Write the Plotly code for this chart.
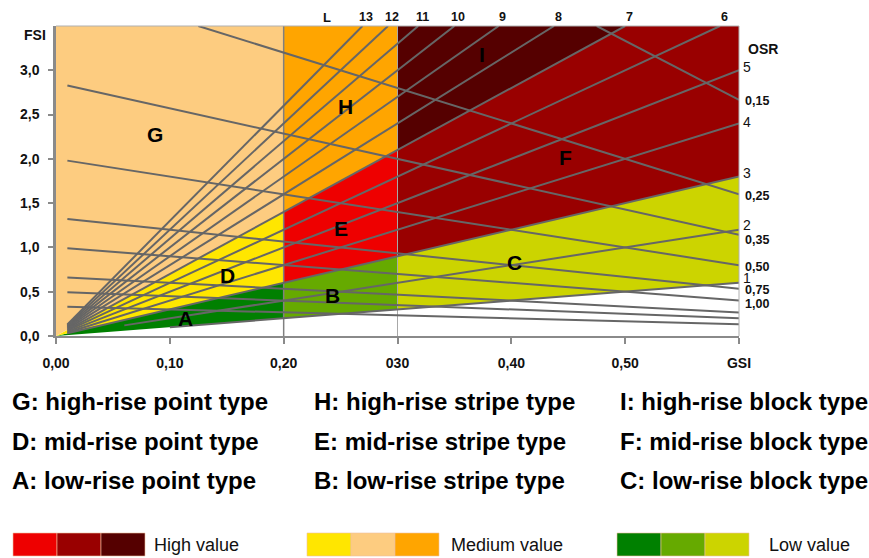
import plotly.graph_objects as go

# ---------------- data ----------------
gsi_ticks = [0.0, 0.1, 0.2, 0.3, 0.4, 0.5, 0.6]
gsi_tick_labels = ["0,00", "0,10", "0,20", "030", "0,40", "0,50", "GSI"]
fsi_ticks = [0.0, 0.5, 1.0, 1.5, 2.0, 2.5, 3.0]
fsi_tick_labels = ["0,0", "0,5", "1,0", "1,5", "2,0", "2,5", "3,0"]

layers = [1, 2, 3, 4, 5, 6, 7, 8, 9, 10, 11, 12, 13]
layer_start_gsi = [0.10, 0.06, 0.01, 0.01, 0.01, 0.01, 0.01, 0.01, 0.01, 0.01, 0.01, 0.01, 0.01]

osr_values = [0.15, 0.25, 0.35, 0.50, 0.75, 1.00, 1.50, 2.00, 3.00]
osr_labels = ["0,15", "0,25", "0,35", "0,50", "0,75", "1,00", "", "", ""]
osr_start_gsi = 0.01

gsi_min, gsi_max = 0.0, 0.6
fsi_min, fsi_max = 0.0, 3.5

gsi_zone_bounds = [0.0, 0.2, 0.3, 0.6]
layer_zone_bounds = [1, 3, 7, None]       # None = top of chart
zone_letters = [["A", "D", "G"], ["B", "E", "H"], ["C", "F", "I"]]
zone_colors = [["#008000", "#FFE600", "#FDCC80"],
               ["#66AA00", "#EE0000", "#FFA500"],
               ["#CCD400", "#990000", "#550000"]]
letter_gsi = {"G": 0.087, "H": 0.254, "I": 0.374, "D": 0.151, "E": 0.250,
              "F": 0.448, "A": 0.114, "B": 0.2425, "C": 0.403}
letter_fsi = {"G": 2.28, "H": 2.59, "I": 3.18, "D": 0.68, "E": 1.21,
              "F": 2.02, "A": 0.20, "B": 0.46, "C": 0.83}

legend_rows = [
    ["G: high-rise point type", "H: high-rise stripe type", "I: high-rise block type"],
    ["D: mid-rise point type", "E: mid-rise stripe type", "F: mid-rise block type"],
    ["A: low-rise point type", "B: low-rise stripe type", "C: low-rise block type"],
]
value_groups = ["High value", "Medium value", "Low value"]
value_colors = [["#EE0000", "#990000", "#550000"],
                ["#FFE600", "#FDCC80", "#FFA500"],
                ["#008000", "#66AA00", "#CCD400"]]

# ---------------- layout geometry ----------------
W, H = 869, 558
ML, MR, MT, MB = 56, 130, 26, 222
PW, PH = W - ML - MR, H - MT - MB

def px(xpix):
    return (xpix - ML) / PW

def py(ypix):
    return (H - MB - ypix) / PH

FONT = "Liberation Sans, Arial, Helvetica, sans-serif"
LINE = "#666666"

fig = go.Figure()

# ---------------- zone polygons ----------------
def boundary(g0, g1, l):
    pts = [g0, g1]
    if l is not None:
        gc = fsi_max / l
        if g0 < gc < g1:
            pts.append(gc)
    pts = sorted(pts)
    return [(g, fsi_max if l is None else min(l * g, fsi_max)) for g in pts]

for i in range(3):
    g0, g1 = gsi_zone_bounds[i], gsi_zone_bounds[i + 1]
    for j in range(3):
        lo, hi = layer_zone_bounds[j], layer_zone_bounds[j + 1]
        poly = boundary(g0, g1, lo) + boundary(g0, g1, hi)[::-1]
        fig.add_trace(go.Scatter(
            x=[p[0] for p in poly], y=[p[1] for p in poly],
            mode="lines", fill="toself", fillcolor=zone_colors[i][j],
            line=dict(width=0, color=zone_colors[i][j]),
            hoverinfo="skip", showlegend=False))

# vertical zone separators
fig.add_trace(go.Scatter(x=[gsi_zone_bounds[1]] * 2, y=[fsi_min, fsi_max], mode="lines",
                         line=dict(color="#808080", width=1.5), hoverinfo="skip", showlegend=False))
fig.add_trace(go.Scatter(x=[gsi_zone_bounds[2]] * 2, y=[fsi_min, fsi_max], mode="lines",
                         line=dict(color="#A8A8A8", width=1), hoverinfo="skip", showlegend=False))

# ---------------- layer lines (FSI = L * GSI) ----------------
for L, g0 in zip(layers, layer_start_gsi):
    g1 = min(gsi_max, fsi_max / L)
    fig.add_trace(go.Scatter(x=[g0, g1], y=[L * g0, L * g1], mode="lines",
                             line=dict(color=LINE, width=2), hoverinfo="skip", showlegend=False))

# ---------------- OSR lines (FSI = (1-GSI)/OSR) ----------------
for osr in osr_values:
    g0 = max(osr_start_gsi, 1 - fsi_max * osr)
    g1 = gsi_max
    fig.add_trace(go.Scatter(x=[g0, g1], y=[(1 - g0) / osr, (1 - g1) / osr], mode="lines",
                             line=dict(color=LINE, width=2), hoverinfo="skip", showlegend=False))

ann = []
# zone letters
for k in letter_gsi:
    ann.append(dict(x=letter_gsi[k], y=letter_fsi[k], text=k, showarrow=False,
                    font=dict(family=FONT, size=21, color="#000000", weight="bold")))

# layer labels at the top
ann.append(dict(x=0.238, y=1, xref="x", yref="paper", yanchor="middle", yshift=9, text="L",
                showarrow=False, font=dict(family=FONT, size=13, color="#111", weight="bold")))
l_right_shift = {1: 5, 2: 5, 3: 4, 4: 1, 5: 3}
for L in layers:
    gc = fsi_max / L
    if gc < gsi_max:
        ann.append(dict(x=gc, y=1, xref="x", yref="paper", yanchor="middle", xshift=4, yshift=9,
                        text=str(L), showarrow=False,
                        font=dict(family=FONT, size=12.5, color="#111", weight="bold")))
    else:
        ann.append(dict(x=gsi_max, y=L * gsi_max, xanchor="left", yanchor="middle", xshift=2,
                        yshift=l_right_shift[L], text=str(L), showarrow=False,
                        font=dict(family=FONT, size=14, color="#111")))

# OSR labels at the right
ann.append(dict(x=gsi_max, y=3.24, xanchor="left", xshift=7, text="OSR", showarrow=False,
                font=dict(family=FONT, size=14, color="#111", weight="bold")))
osr_shift = {"0,15": -1, "0,25": -2, "0,35": -5, "0,50": -2, "0,75": -1, "1,00": -3}
for osr, lab in zip(osr_values, osr_labels):
    if lab:
        ann.append(dict(x=gsi_max, y=(1 - gsi_max) / osr, xanchor="left", yanchor="middle",
                        xshift=4, yshift=osr_shift[lab], text=lab, showarrow=False,
                        font=dict(family=FONT, size=12.5, color="#111", weight="bold")))

# FSI axis title
ann.append(dict(x=px(22), y=py(25), xref="paper", yref="paper", text="FSI", showarrow=False,
                font=dict(family=FONT, size=14, color="#111", weight="bold")))

# typology legend text
col_x = [10, 312, 618]
row_y = [401, 441, 480]
for r, row in enumerate(legend_rows):
    for c, txt in enumerate(row):
        ann.append(dict(x=px(col_x[c]), y=py(row_y[r]), xref="paper", yref="paper",
                        xanchor="left", yanchor="middle", text=txt, showarrow=False,
                        font=dict(family=FONT, size=24, color="#000", weight="bold")))

# value colour legend
shapes = []
grp_x = [13, 307, 617]
txt_x = [152, 449, 767]
sw_w = 44
for g in range(3):
    for s in range(3):
        x0 = grp_x[g] + s * sw_w
        shapes.append(dict(type="rect", xref="paper", yref="paper",
                           x0=px(x0), x1=px(x0 + sw_w), y0=py(556), y1=py(533),
                           fillcolor=value_colors[g][s], line=dict(width=0.6, color="#f0c0a0"),
                           layer="above"))
    ann.append(dict(x=px(txt_x[g]), y=py(545), xref="paper", yref="paper", xanchor="left",
                    yanchor="middle", text=value_groups[g], showarrow=False,
                    font=dict(family=FONT, size=18, color="#111")))

# top / right frame
shapes.append(dict(type="line", xref="paper", yref="paper", x0=0, x1=1, y0=1, y1=1,
                   line=dict(color="#B0B0B0", width=1)))
shapes.append(dict(type="line", xref="paper", yref="paper", x0=1, x1=1, y0=0, y1=1,
                   line=dict(color="#B0B0B0", width=1)))

fig.update_layout(
    width=W, height=H,
    margin=dict(l=ML, r=MR, t=MT, b=MB, pad=0),
    paper_bgcolor="white", plot_bgcolor="white",
    showlegend=False,
    annotations=ann, shapes=shapes,
    xaxis=dict(range=[gsi_min, gsi_max], tickvals=gsi_ticks, ticktext=gsi_tick_labels,
               showgrid=False, zeroline=False, showline=True, linecolor="#8A8A8A", linewidth=2,
               ticks="outside", ticklen=6, tickwidth=2, tickcolor="#8A8A8A",
               ticklabelstandoff=7,
               tickfont=dict(family=FONT, size=14, color="#111", weight="bold")),
    yaxis=dict(range=[fsi_min, fsi_max], tickvals=fsi_ticks, ticktext=fsi_tick_labels,
               showgrid=False, zeroline=False, showline=True, linecolor="#8A8A8A", linewidth=2.5,
               ticks="outside", ticklen=5, tickwidth=2, tickcolor="#8A8A8A",
               ticklabelstandoff=6,
               tickfont=dict(family=FONT, size=14, color="#111", weight="bold")),
)

fig.write_html(
    "out.html",
    config={"displayModeBar": False},
    post_script="document.body.style.margin='0';document.body.style.overflow='hidden';",
)
